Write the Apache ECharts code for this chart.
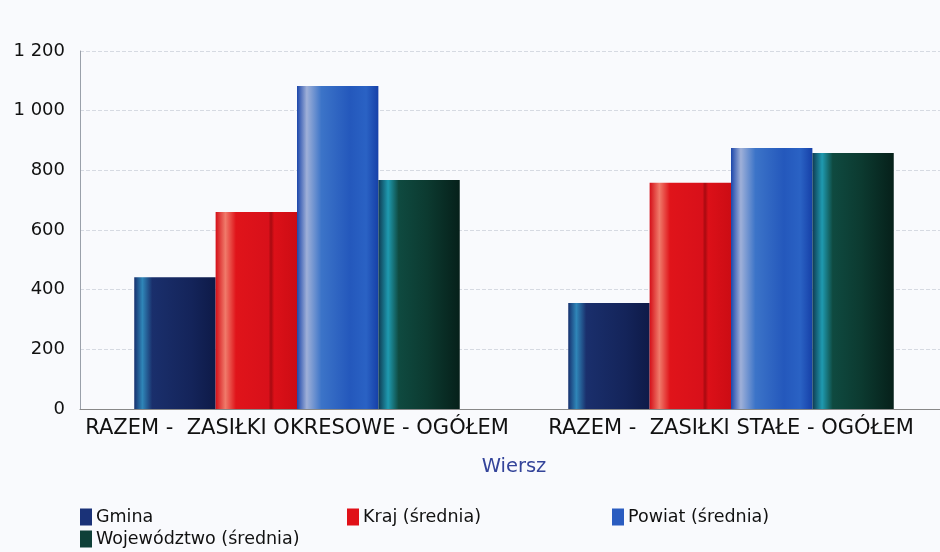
<!DOCTYPE html>
<html><head><meta charset="utf-8">
<script src="https://cdn.jsdelivr.net/npm/echarts@6/dist/echarts.min.js"></script>
<style>html,body{margin:0;padding:0;background:#f9fafd;overflow:hidden;width:940px;height:552px;}#c{width:952px;height:552px;}</style>
</head><body><div id="c"></div>
<script>
const categories = ['RAZEM -  ZASIŁKI OKRESOWE - OGÓŁEM', 'RAZEM -  ZASIŁKI STAŁE - OGÓŁEM'];
const seriesNames = ['Gmina', 'Kraj (średnia)', 'Powiat (średnia)', 'Województwo (średnia)'];
const gmina = [442, 355];
const kraj = [660, 758];
const powiat = [1083, 875];
const wojewodztwo = [768, 858];
const yTicks = [0, 200, 400, 600, 800, 1000, 1200];

function grad(stops){
  return new echarts.graphic.LinearGradient(0,0,1,0, stops.map(s=>({offset:s[0],color:s[1]})));
}
const colors = [
  grad([[0,'#16306e'],[0.1,'#2f86b8'],[0.22,'#1a2f6c'],[0.7,'#14245a'],[1,'#0e1a48']]),
  grad([[0,'#d40f18'],[0.12,'#f07a6a'],[0.25,'#e0141a'],[0.65,'#d8101a'],[0.68,'#a80a10'],[0.72,'#dc1018'],[1,'#cc0c14']]),
  grad([[0,'#1c46aa'],[0.12,'#9fb0d8'],[0.3,'#3c74c8'],[0.65,'#2458bc'],[0.85,'#2a62c4'],[1,'#1640a8']]),
  grad([[0,'#0e3a52'],[0.12,'#1f9ab0'],[0.25,'#0f4a40'],[0.6,'#0c3a30'],[1,'#06201a']])
];
const legendIcons = ['#1a3278','#e01018','#2a5cc0','#0e4038'];
const data = [gmina, kraj, powiat, wojewodztwo];

const chart = echarts.init(document.getElementById('c'));
const font = '"DejaVu Sans", "Open Sans", sans-serif';
const legendPos = [[80,508],[347,508],[612,508],[80,530]];
chart.setOption({
  backgroundColor: '#f9fafd',
  animation: false,
  textStyle: {fontFamily: font},
  legend: seriesNames.map((n,i)=>({
    data:[{name:n, itemStyle:{color:legendIcons[i]}}], left:legendPos[i][0], top:legendPos[i][1],
    itemWidth:12, itemHeight:17, itemGap:4, icon:'rect', padding:0,
    textStyle:{fontSize:17.5, color:'#111', fontFamily:font, padding:[0,0,0,-1]}
  })),
  grid: {left:80, right:4, top:51, bottom:143},
  xAxis: {
    type:'category', data:categories,
    name:'Wiersz', nameLocation:'middle', nameGap:48,
    nameTextStyle:{fontSize:19.5, color:'#34449a', fontFamily:font},
    axisLine:{lineStyle:{color:'#888', width:1}},
    axisTick:{show:false},
    axisLabel:{fontSize:21, color:'#111', margin:9, fontFamily:font, interval:0}
  },
  yAxis: {
    type:'value', min:yTicks[0], max:yTicks[yTicks.length-1], interval:200,
    axisLine:{show:true, lineStyle:{color:'#9aa0aa'}},
    axisTick:{show:false},
    splitLine:{lineStyle:{color:'#d6dae2', type:'dashed'}},
    axisLabel:{fontSize:18, color:'#111', margin:15, fontFamily:font,
      formatter:v=>String(v).replace(/\B(?=(\d{3})+(?!\d))/g,' ')}
  },
  series: data.map((d,i)=>({
    name:seriesNames[i], type:'bar', data:d, barGap:'0%', barCategoryGap:'25%',
    itemStyle:{color:colors[i]}
  }))
});
</script></body></html>
